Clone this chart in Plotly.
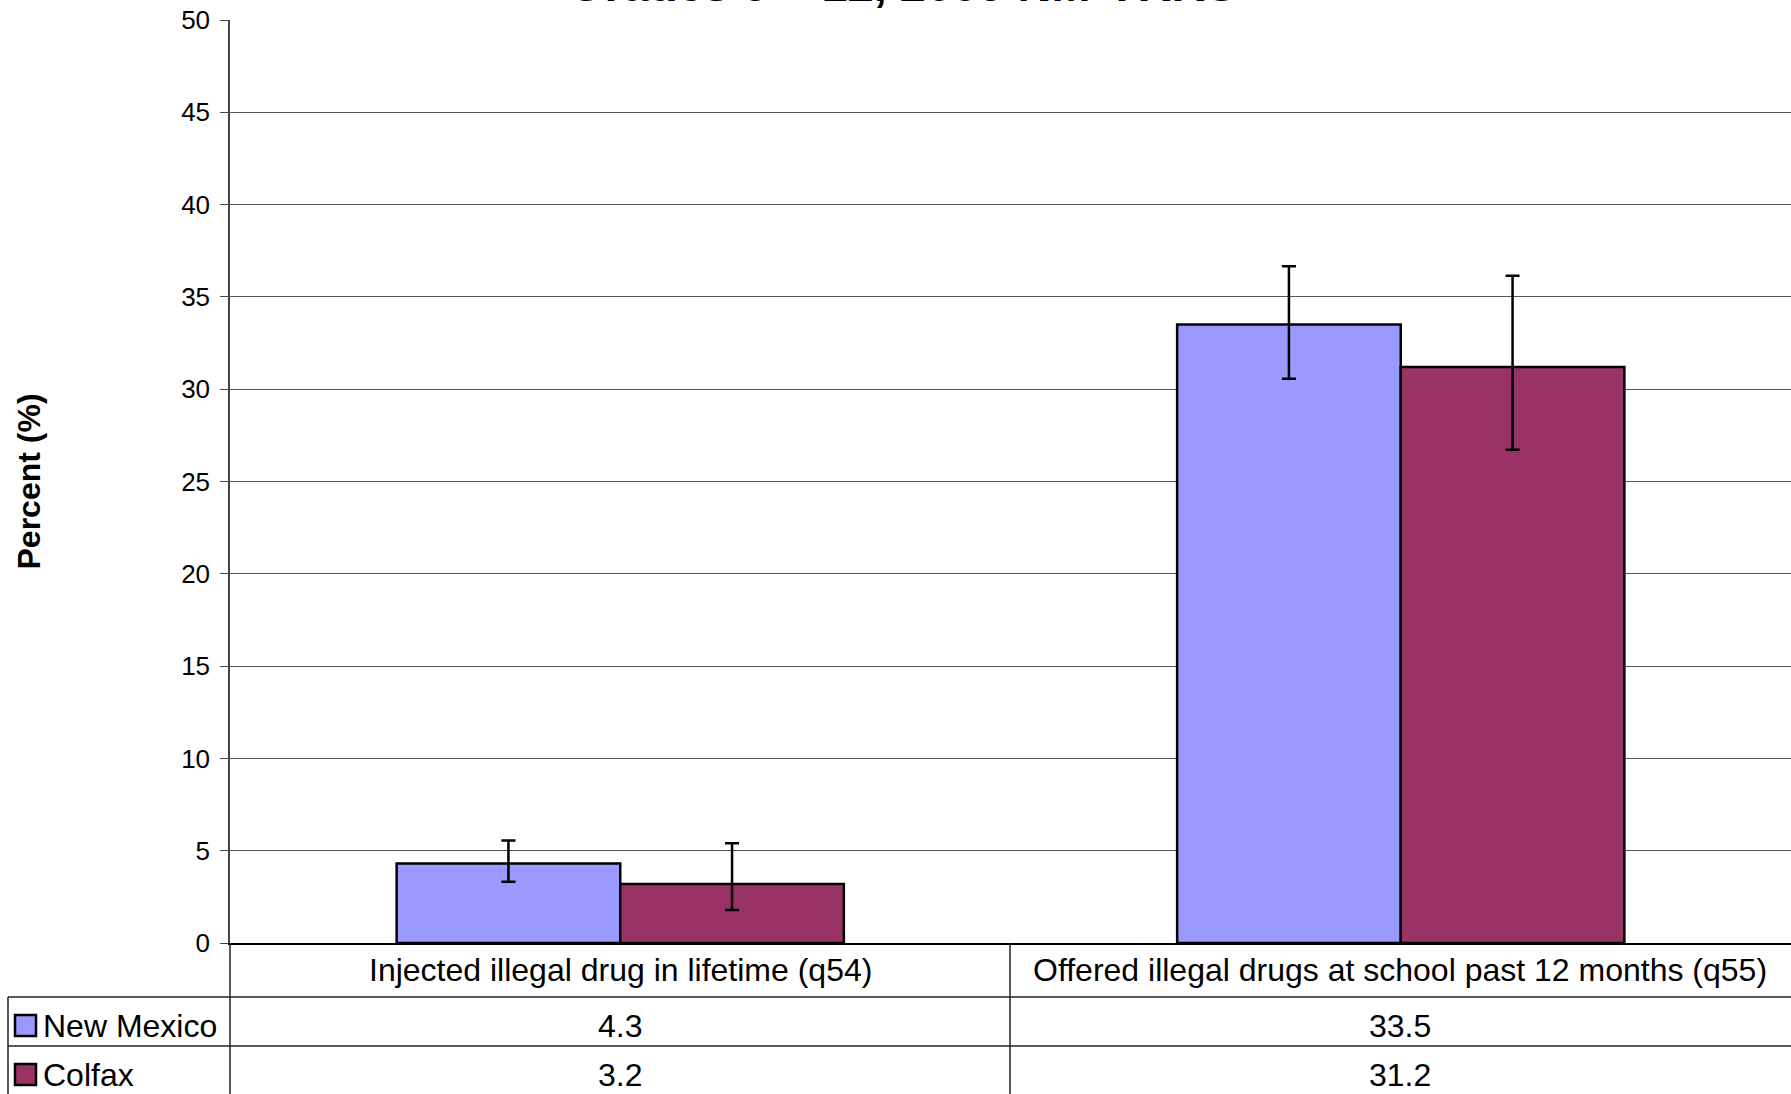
import plotly.graph_objects as go

# ---- data ----
categories = ["Injected illegal drug in lifetime (q54)",
              "Offered illegal drugs at school past 12 months (q55)"]
series_names = ["New Mexico", "Colfax"]
nm_values = [4.3, 33.5]
colfax_values = [3.2, 31.2]
nm_err_plus = [1.25, 3.16]
nm_err_minus = [0.98, 2.93]
colfax_err_plus = [2.2, 4.95]
colfax_err_minus = [1.41, 4.48]
y_ticks = [0, 5, 10, 15, 20, 25, 30, 35, 40, 45, 50]
title_text = "Grades 9 – 12, 2009 NM-YRRS"
y_title = "Percent (%)"

colors = ["#9999FF", "#993366"]

W, H = 1791, 1094
L, R, T, B = 230, 0, 20, 151
PW, PH = W - L - R, H - T - B

def px(x):
    return (x - L) / PW

def py(y):
    return (H - B - y) / PH

FONT = "Liberation Sans, Arial, sans-serif"
TABLE_FS = 32

fig = go.Figure()
vals = [nm_values, colfax_values]
plus = [nm_err_plus, colfax_err_plus]
minus = [nm_err_minus, colfax_err_minus]
for i, name in enumerate(series_names):
    fig.add_trace(go.Bar(
        x=categories, y=vals[i], name=name,
        marker=dict(color=colors[i], line=dict(color="black", width=2.5)),
        error_y=dict(type="data", symmetric=False, array=plus[i], arrayminus=minus[i],
                     color="black", thickness=2.5, width=7),
    ))

shapes = []
line_col = "#222"
shapes.append(dict(type="line", xref="paper", yref="paper", x0=px(230), x1=px(230), y0=py(943), y1=py(H + 5), line=dict(color=line_col, width=1.5)))
shapes.append(dict(type="line", xref="paper", yref="paper", x0=px(1010), x1=px(1010), y0=py(943), y1=py(H + 5), line=dict(color=line_col, width=1.5)))
shapes.append(dict(type="line", xref="paper", yref="paper", x0=px(8), x1=px(8), y0=py(997), y1=py(H + 5), line=dict(color=line_col, width=1.5)))
for yy in (997, 1046):
    shapes.append(dict(type="line", xref="paper", yref="paper", x0=px(8), x1=px(W + 5), y0=py(yy), y1=py(yy), line=dict(color=line_col, width=1.5)))

annotations = []
col_centers = [620, 1400]
for c, cat in zip(col_centers, categories):
    annotations.append(dict(text=cat, xref="paper", yref="paper", x=px(c), y=py(970),
                            xanchor="center", yanchor="middle", showarrow=False,
                            font=dict(family=FONT, size=TABLE_FS, color="black")))
row_centers = [1026, 1075]
for i, name in enumerate(series_names):
    rc = row_centers[i]
    shapes.append(dict(type="rect", xref="paper", yref="paper", x0=px(15), x1=px(36), y0=py(rc - 11), y1=py(rc + 10),
                       fillcolor=colors[i], line=dict(color="black", width=2.5)))
    annotations.append(dict(text=name, xref="paper", yref="paper", x=px(41), y=py(rc),
                            xanchor="left", yanchor="middle", showarrow=False,
                            font=dict(family=FONT, size=TABLE_FS, color="black")))
    for c, v in zip(col_centers, vals[i]):
        annotations.append(dict(text=f"{v}", xref="paper", yref="paper", x=px(c), y=py(rc),
                                xanchor="center", yanchor="middle", showarrow=False,
                                font=dict(family=FONT, size=TABLE_FS, color="black")))

annotations.append(dict(text=f"<b>{y_title}</b>", xref="paper", yref="paper", x=px(28), y=0.5,
                        xanchor="center", yanchor="middle", textangle=-90, showarrow=False,
                        font=dict(family=FONT, size=32, color="black")))
annotations.append(dict(text=f"<b>{title_text}</b>", xref="paper", yref="paper", x=px(902), y=py(13),
                        xanchor="center", yanchor="bottom", showarrow=False,
                        font=dict(family=FONT, size=47, color="black")))

fig.update_layout(
    width=W, height=H,
    margin=dict(l=L, r=R, t=T, b=B, pad=0),
    paper_bgcolor="white", plot_bgcolor="white",
    barmode="group", bargap=0.427, bargroupgap=0,
    showlegend=False,
    shapes=shapes, annotations=annotations,
    font=dict(family=FONT, color="black"),
    xaxis=dict(showticklabels=False, ticks="", showgrid=False, showline=True,
               linecolor="black", linewidth=2, range=[-0.5, 1.5], fixedrange=True),
    yaxis=dict(range=[0, 50], tickvals=y_ticks, showgrid=True, gridcolor="#555", gridwidth=1,
               showline=True, linecolor="#444", linewidth=1.5, ticks="outside", ticklen=8,
               tickcolor="#444", tickfont=dict(family=FONT, size=26, color="black"),
               ticklabelstandoff=5, zeroline=False, mirror=False),
)
fig.write_html("out.html", config={"displayModeBar": False},
               post_script="document.body.style.margin='0';document.body.style.overflow='hidden';")
